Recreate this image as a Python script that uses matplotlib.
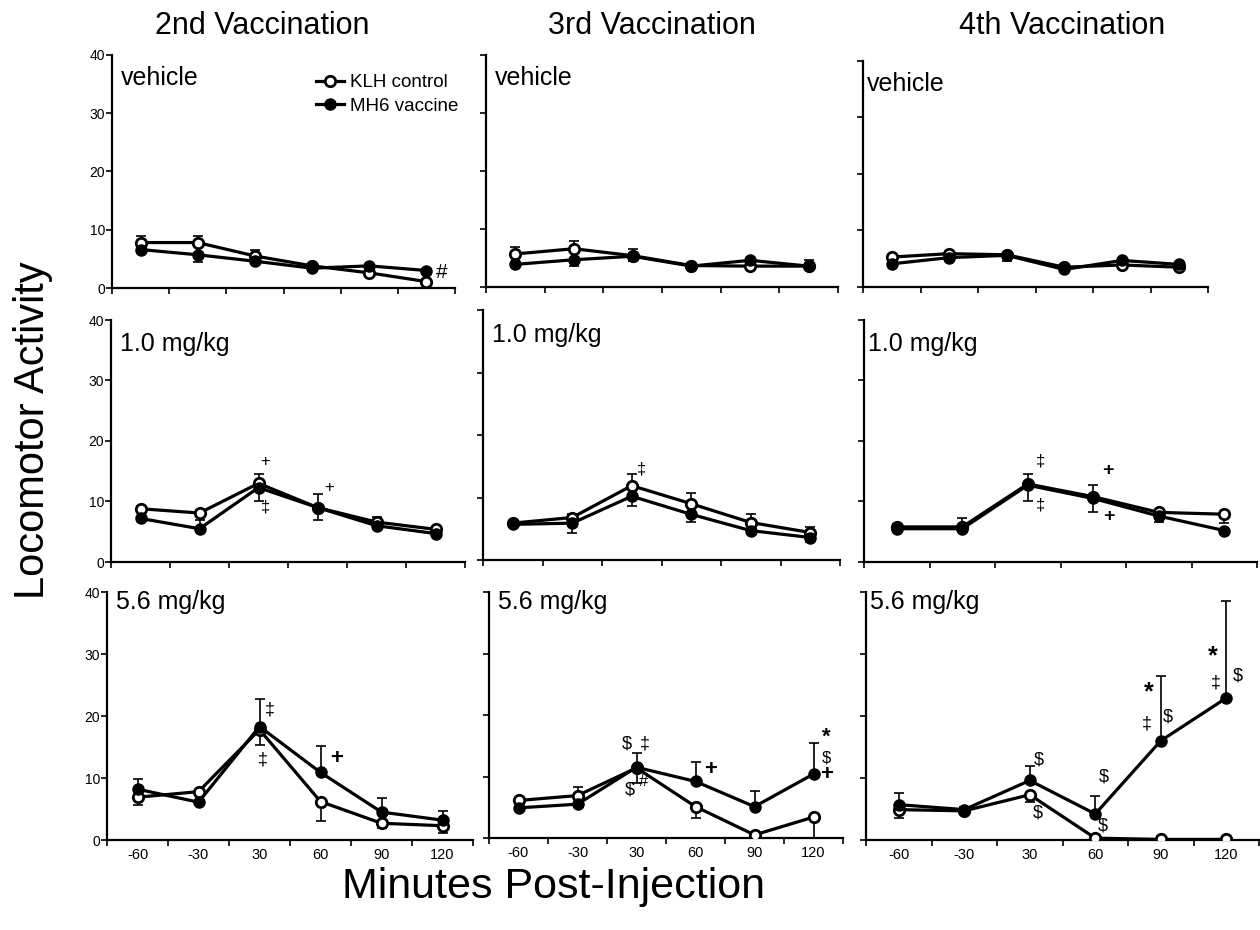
import numpy as np
import matplotlib
matplotlib.use("Agg")
from matplotlib import pyplot as plt

plt.rcParams['font.family'] = ['Liberation Sans', 'DejaVu Sans']

minutes = ["-60", "-30", "30", "60", "90", "120"]
vaccinations = ["2nd Vaccination", "3rd Vaccination", "4th Vaccination"]
doses = ["vehicle", "1.0 mg/kg", "5.6 mg/kg"]

# mean activity, KLH control (open) and MH6 vaccine (filled)
# errors are signed: + means bar drawn up, - means bar drawn down
klh_2_veh = [7.8, 7.8, 5.5, 3.8, 2.6, 1.1]
klh_2_veh_err = [1.2, 1.2, 1.1, 0.4, 0.4, 0.4]
mh6_2_veh = [6.6, 5.7, 4.6, 3.4, 3.8, 3.0]
mh6_2_veh_err = [-0.4, -1.2, -0.4, -0.4, -0.4, -0.4]

klh_2_lo = [8.8, 8.1, 13.0, 9.0, 6.6, 5.4]
klh_2_lo_err = [0.5, 0.5, 1.6, 2.2, 0.9, 0.4]
mh6_2_lo = [7.2, 5.5, 12.3, 9.0, 6.0, 4.7]
mh6_2_lo_err = [-0.5, 1.4, -2.2, -2.1, -0.4, -0.4]

klh_2_hi = [6.9, 7.8, 17.8, 6.2, 2.7, 2.3]
klh_2_hi_err = [-1.3, -0.4, -2.4, -3.1, -0.8, -1.2]
mh6_2_hi = [8.2, 6.1, 18.3, 10.9, 4.5, 3.2]
mh6_2_hi_err = [1.6, 0.4, 4.4, 4.3, 2.2, 1.5]

klh_3_veh = [5.7, 6.6, 5.4, 3.7, 3.6, 3.6]
klh_3_veh_err = [1.2, 1.3, 1.2, 0.4, 0.4, 1.1]
mh6_3_veh = [3.9, 4.7, 5.3, 3.6, 4.6, 3.6]
mh6_3_veh_err = [-0.4, -1.1, -0.9, -0.4, -0.4, -0.4]

klh_3_lo = [5.9, 6.8, 11.9, 9.0, 6.0, 4.4]
klh_3_lo_err = [0.4, 0.5, 1.9, 1.8, 1.3, 0.9]
mh6_3_lo = [5.7, 5.9, 10.2, 7.3, 4.7, 3.6]
mh6_3_lo_err = [-0.4, -1.5, -1.6, -1.2, -0.5, -0.7]

klh_3_hi = [6.1, 6.9, 11.4, 5.1, 0.5, 3.4]
klh_3_hi_err = [-0.4, 1.4, -2.5, -1.9, -0.3, -3.4]
mh6_3_hi = [4.9, 5.5, 11.5, 9.2, 5.1, 10.4]
mh6_3_hi_err = [-0.4, -0.4, 2.3, 3.2, 2.6, 5.0]

klh_4_veh = [5.3, 5.9, 5.7, 3.5, 3.9, 3.5]
klh_4_veh_err = [0.4, 0.4, 0.4, 0.4, 0.4, 0.4]
mh6_4_veh = [4.1, 5.2, 5.6, 3.1, 4.7, 4.0]
mh6_4_veh_err = [-0.4, -0.4, -1.0, -0.5, -0.4, -0.4]

klh_4_lo = [5.8, 5.8, 12.9, 10.8, 8.2, 7.9]
klh_4_lo_err = [0.4, 1.5, 1.6, 2.0, 0.4, -1.5]
mh6_4_lo = [5.5, 5.5, 12.7, 10.5, 7.6, 5.2]
mh6_4_lo_err = [-0.4, -0.4, -2.6, -2.2, -1.0, -0.4]

klh_4_hi = [4.9, 4.7, 7.3, 0.3, 0.1, 0.1]
klh_4_hi_err = [-1.4, -0.4, -1.1, -0.3, -0.1, -0.1]
mh6_4_hi = [5.7, 4.9, 9.6, 4.2, 16.0, 22.9]
mh6_4_hi_err = [1.9, 0.4, 2.3, 2.9, 10.4, 15.7]

klh = [[klh_2_veh, klh_3_veh, klh_4_veh],
       [klh_2_lo, klh_3_lo, klh_4_lo],
       [klh_2_hi, klh_3_hi, klh_4_hi]]
klh_err = [[klh_2_veh_err, klh_3_veh_err, klh_4_veh_err],
           [klh_2_lo_err, klh_3_lo_err, klh_4_lo_err],
           [klh_2_hi_err, klh_3_hi_err, klh_4_hi_err]]
mh6 = [[mh6_2_veh, mh6_3_veh, mh6_4_veh],
       [mh6_2_lo, mh6_3_lo, mh6_4_lo],
       [mh6_2_hi, mh6_3_hi, mh6_4_hi]]
mh6_err = [[mh6_2_veh_err, mh6_3_veh_err, mh6_4_veh_err],
           [mh6_2_lo_err, mh6_3_lo_err, mh6_4_lo_err],
           [mh6_2_hi_err, mh6_3_hi_err, mh6_4_hi_err]]

# significance marks: (row, col, x in category units, y, text, size, bold)
notes = [
    (0, 0, 5.27, 2.6, "#", 15, False),
    (1, 0, 2.12, 16.6, "+", 12, False),
    (1, 0, 2.12, 9.1, "\u2021", 12, False),
    (1, 0, 3.2, 12.3, "+", 12, False),
    (2, 0, 2.17, 21.0, "\u2021", 13, False),
    (2, 0, 2.05, 12.9, "\u2021", 13, False),
    (2, 0, 3.26, 13.2, "+", 16, True),
    (1, 1, 2.16, 14.6, "\u2021", 12, False),
    (2, 1, 1.84, 15.3, "$", 13, False),
    (2, 1, 2.14, 15.3, "\u2021", 13, False),
    (2, 1, 1.89, 7.8, "$", 13, False),
    (2, 1, 2.12, 9.2, "#", 12, False),
    (2, 1, 3.25, 11.1, "+", 16, True),
    (2, 1, 5.22, 16.4, "*", 16, True),
    (2, 1, 5.22, 13.0, "$", 12, False),
    (2, 1, 5.22, 10.3, "+", 16, True),
    (1, 2, 2.2, 16.7, "\u2021", 12, False),
    (1, 2, 2.19, 9.4, "\u2021", 12, False),
    (1, 2, 3.22, 15.1, "+", 14, True),
    (1, 2, 3.24, 7.6, "+", 14, True),
    (2, 2, 2.14, 12.9, "$", 13, False),
    (2, 2, 2.13, 4.4, "$", 13, False),
    (2, 2, 3.13, 10.1, "$", 13, False),
    (2, 2, 3.12, 2.3, "$", 13, False),
    (2, 2, 3.81, 23.9, "*", 18, True),
    (2, 2, 3.79, 18.7, "\u2021", 13, False),
    (2, 2, 4.11, 19.9, "$", 13, False),
    (2, 2, 4.79, 29.7, "*", 18, True),
    (2, 2, 4.84, 25.4, "\u2021", 13, False),
    (2, 2, 5.18, 26.5, "$", 13, False),
]

# panel boxes in pixels: left, top, right, bottom
boxes = [[(112, 55, 455, 288), (486, 55, 838, 287), (863, 61, 1208, 287)],
         [(111, 320, 465, 562), (483, 310, 840, 560), (864, 320, 1257, 562)],
         [(107, 592, 473, 840), (489, 592, 843, 838), (866, 592, 1259, 840)]]

W, H = 1260, 930
fig = plt.figure(figsize=(W / 100, H / 100), dpi=100)

def split_err(e):
    e = np.asarray(e)
    return [np.clip(-e, 0, None), np.clip(e, 0, None)]

x = np.arange(len(minutes))
axes = {}
for r in range(3):
    for c in range(3):
        l, t, rr, b = boxes[r][c]
        ax = fig.add_axes([l / W, 1 - b / H, (rr - l) / W, (b - t) / H])
        axes[(r, c)] = ax
        ax.errorbar(x, klh[r][c], yerr=split_err(klh_err[r][c]), fmt='none',
                    ecolor='black', elinewidth=1.2, capsize=3.5, capthick=1.2, zorder=1)
        ax.errorbar(x, mh6[r][c], yerr=split_err(mh6_err[r][c]), fmt='none',
                    ecolor='black', elinewidth=1.2, capsize=3.5, capthick=1.2, zorder=1)
        lk, = ax.plot(x, klh[r][c], color='black', lw=2.3, marker='o', ms=7.5,
                      mfc='white', mec='black', mew=2, zorder=3, label='KLH control')
        lm, = ax.plot(x, mh6[r][c], color='black', lw=2.3, marker='o', ms=8,
                      mfc='black', mec='black', zorder=4, label='MH6 vaccine')
        ax.set_xlim(-0.5, len(minutes) - 0.5)
        ax.set_ylim(0, 40)
        ax.spines['top'].set_visible(False)
        ax.spines['right'].set_visible(False)
        ax.spines['left'].set_linewidth(1.6)
        ax.spines['bottom'].set_linewidth(1.6)
        ax.set_xticks(np.arange(-0.5, len(minutes), 1.0))
        ax.set_xticklabels([])
        ax.tick_params(axis='x', which='major', direction='out', length=4, width=1.2)
        ax.set_xticks(x, minor=True)
        if r == 2:
            ax.set_xticklabels(minutes, minor=True, fontsize=10.5)
        ax.tick_params(axis='x', which='minor', length=0, pad=6)
        ax.set_yticks([0, 10, 20, 30, 40])
        ax.tick_params(axis='y', direction='out', length=4, width=1.2, pad=1)
        if c == 0:
            ax.set_yticklabels(['0', '10', '20', '30', '40'], fontsize=10)
        else:
            ax.set_yticklabels([])
        ax.patch.set_alpha(0)
        ypos = 0.96 if r == 2 else 0.9
        ax.text(0.025 if c < 2 else 0.01, ypos, doses[r], transform=ax.transAxes,
                fontsize=18, ha='left', va='center')
        if r == 0 and c == 0:
            fig.legend(handles=[lk, lm], loc='upper left',
                       bbox_to_anchor=(316 / W, 1 - 74 / H), frameon=False,
                       fontsize=13.5, handlelength=1.5, handletextpad=0.3,
                       labelspacing=0.35, borderpad=0, borderaxespad=0)

for (r, c, nx, ny, s, fs, bold) in notes:
    axes[(r, c)].text(nx, ny, s, fontsize=fs, ha='center', va='center',
                      fontweight='bold' if bold else 'normal', zorder=5)

title_x = [262, 652, 1062]
for name, tx in zip(vaccinations, title_x):
    fig.text(tx / W, 1 - 26 / H, name, fontsize=22, ha='center', va='center')

fig.text(33 / W, 1 - 430 / H, "Locomotor Activity", rotation=90,
         fontsize=30, ha='center', va='center')
fig.text(553 / W, 1 - 887 / H, "Minutes Post-Injection",
         fontsize=31, ha='center', va='center')

fig.savefig("out.png", dpi=100)
